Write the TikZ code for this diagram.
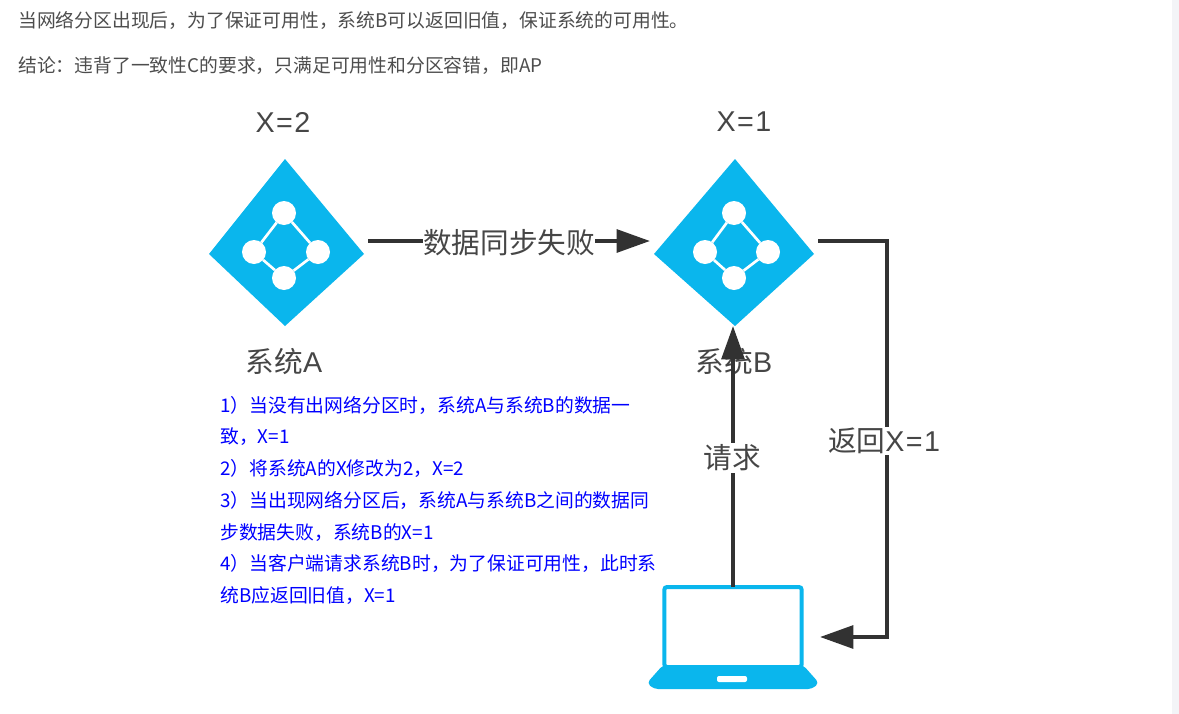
\documentclass[tikz,border=0pt]{standalone}
\usepackage{fontspec}
\setmainfont{Noto Sans CJK SC}
\newfontfamily\latinfont[LetterSpace=5]{Liberation Sans}
\usetikzlibrary{arrows.meta}
\definecolor{iconblue}{RGB}{10,182,237}
\definecolor{flowgray}{RGB}{50,50,50}
\definecolor{labelgray}{RGB}{70,70,70}
\definecolor{bodygray}{RGB}{77,77,77}
\definecolor{barpale}{RGB}{243,244,247}
\tikzset{
	x=0.75pt,y=-0.75pt,
	hub/.style={circle,fill=white,minimum size=18pt,inner sep=0pt,outer sep=0pt},
	hublink/.style={draw=white,line width=2pt},
	flow/.style={draw=flowgray,line width=3pt,-{Triangle[length=25pt,width=17pt]}},
	syslabel/.style={text=labelgray,font=\fontsize{21.5pt}{24pt}\selectfont,inner sep=0pt},
	bodytext/.style={text=bodygray,font=\fontsize{14.1pt}{16pt}\selectfont,anchor=base west,inner sep=0pt},
	steptext/.style={text=blue,font=\fontsize{14.1pt}{16pt}\selectfont,anchor=base west,inner sep=0pt}
}
\begin{document}
\begin{tikzpicture}
	\useasboundingbox (0,0) rectangle (1179,714);
	\fill[white] (0,0) rectangle (1179,714);
	\fill[barpale] (1172,0) rectangle (1179,714);

	% Paragraphs above the figure
	\node[bodytext] (introline) at (18,27) {当网络分区出现后，为了保证可用性，系统B可以返回旧值，保证系统的可用性。};
	\node[bodytext] (concline) at (18,72) {结论：违背了一致性C的要求，只满足可用性和分区容错，即AP};

	% System icons
	\foreach \sys/\cx/\lx/\rx/\hx/\hl/\hr in {A/285/209/364/284/254/318,B/735/654/814/734/705/768} {
		\fill[iconblue] (\cx,159) -- (\rx,254) -- (\cx,326) -- (\lx,254) -- cycle;
		\node[hub] (hubT\sys) at (\hx,213) {};
		\node[hub] (hubL\sys) at (\hl,252) {};
		\node[hub] (hubR\sys) at (\hr,252) {};
		\node[hub] (hubB\sys) at (\hx,278) {};
		\draw[hublink] (hubT\sys) -- (hubL\sys) -- (hubB\sys) -- (hubR\sys) -- (hubT\sys);
	}

	% Names and values
	\node[syslabel] (valA) at (283,122) {\latinfont X=2};
	\node[syslabel] (valB) at (744,122) {\latinfont X=1};
	\node[syslabel] (nameA) at (284,362) {系统{\latinfont A}};
	\node[syslabel] (nameB) at (734,362) {系统{\latinfont B}};

	% Laptop
	\node[draw=iconblue,line width=3pt,rounded corners=2pt,minimum width=103pt,minimum height=60pt,inner sep=0pt,outer sep=0pt] (laptop) at (733,627) {};
	\fill[iconblue,rounded corners=3pt] (663,665) -- (803,665) -- (819,683) -- (812,689) -- (654,689) -- (647,683) -- cycle;
	\fill[white,rounded corners=1.5pt] (717,676) rectangle (747,682);

	% Connector ends
	\coordinate (syncStart) at (368,241);
	\coordinate (syncEnd) at (650,241);
	\coordinate (retStart) at (818,241);
	\coordinate (retCorner) at (887,637);
	\coordinate (retEnd) at (820,637);
	\coordinate (reqEnd) at (733,326);

	% Connectors
	\draw[flow] (syncStart) -- (syncEnd);
	\draw[flow] (retStart) -| (retCorner) -- (retEnd);
	\draw[flow] (laptop.north) -- (reqEnd);

	% Connector labels
	\node[syslabel,fill=white] (syncLabel) at (509,243) {数据同步失败};
	\node[syslabel,fill=white,inner sep=1pt] (reqLabel) at (732,458) {请求};
	\node[syslabel,fill=white,inner sep=1pt] (retLabel) at (884,441) {返回{\latinfont X=1}};

	% Numbered steps
	\node[steptext] (stepa) at (220,412) {1）当没有出网络分区时，系统A与系统B的数据一};
	\node[steptext] (stepb) at (220,443) {致，X=1};
	\node[steptext] (stepc) at (220,475) {2）将系统A的X修改为2，X=2};
	\node[steptext] (stepd) at (220,507) {3）当出现网络分区后，系统A与系统B之间的数据同};
	\node[steptext] (stepe) at (220,539) {步数据失败，系统B的X=1};
	\node[steptext] (stepf) at (220,570) {4）当客户端请求系统B时，为了保证可用性，此时系};
	\node[steptext] (stepg) at (220,602) {统B应返回旧值，X=1};
\end{tikzpicture}
\end{document}
